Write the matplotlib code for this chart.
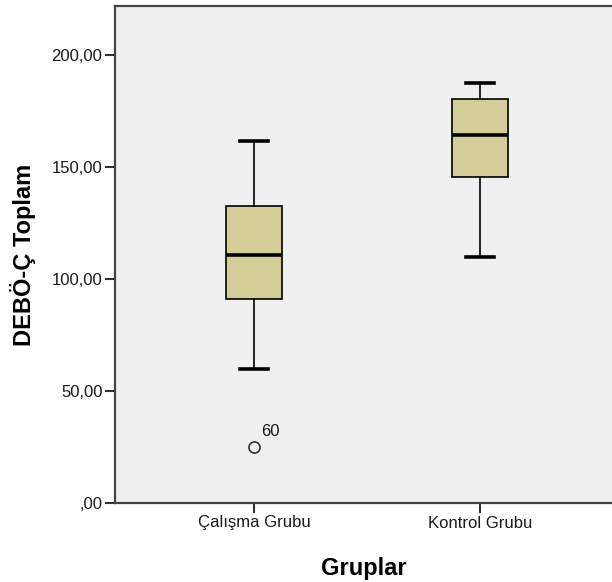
import matplotlib
matplotlib.use("Agg")
import matplotlib.pyplot as plt

categories = ["Çalışma Grubu", "Kontrol Grubu"]
whislo = [59.8, 109.8]
q1 = [91.1, 145.5]
med = [110.7, 164.3]
q3 = [132.6, 180.4]
whishi = [161.6, 187.5]
fliers = [[25.0], []]
flier_labels = [["60"], []]
yticks = [0, 50, 100, 150, 200]
ytick_labels = [",00", "50,00", "100,00", "150,00", "200,00"]

plt.rcParams['font.family'] = ['Liberation Sans', 'DejaVu Sans']

fig = plt.figure(figsize=(6.12, 5.82), dpi=100)
ax = fig.add_axes([115/612, 79/582, 1 - 115/612, (503-6)/582])
ax.set_facecolor('#f0f0f0')

stats = []
for i in range(len(categories)):
    stats.append(dict(label=categories[i], whislo=whislo[i], q1=q1[i], med=med[i],
                      q3=q3[i], whishi=whishi[i], fliers=fliers[i]))

ax.bxp(stats, positions=[1, 2], widths=0.252, patch_artist=True,
       boxprops=dict(facecolor='#d3ce98', edgecolor='black', linewidth=1.2),
       medianprops=dict(color='black', linewidth=2.6),
       whiskerprops=dict(color='black', linewidth=1.2),
       capprops=dict(color='black', linewidth=2.6),
       capwidths=0.12,
       flierprops=dict(marker='o', markerfacecolor='none', markeredgecolor='#333333',
                       markersize=8, markeredgewidth=1.2))

for i, (fl, lab) in enumerate(zip(fliers, flier_labels)):
    for v, t in zip(fl, lab):
        ax.annotate(t, xy=(i + 1, v), xytext=(5, 6), textcoords='offset points',
                    fontsize=12, color='#1a1a1a', ha='left', va='bottom')

ax.set_xlim(1 - 139/226, 2 + 132/226)
ax.set_ylim(0, 221.9)
ax.set_yticks(yticks)
ax.set_yticklabels(ytick_labels)
ax.set_xticks([1, 2])
ax.set_xticklabels(categories)
ax.tick_params(axis='both', labelsize=12, length=7, width=1.5, color='#333333',
               labelcolor='#1a1a1a', pad=2)

for s in ['left', 'bottom', 'top']:
    ax.spines[s].set_linewidth(1.6)
    ax.spines[s].set_color('#444444')
ax.spines['right'].set_visible(False)

ax.set_ylabel("DEBÖ-Ç Toplam", fontsize=17, fontweight='bold', labelpad=11)
ax.set_xlabel("Gruplar", fontsize=17, fontweight='bold', labelpad=19)

fig.savefig("out.png", dpi=100)
